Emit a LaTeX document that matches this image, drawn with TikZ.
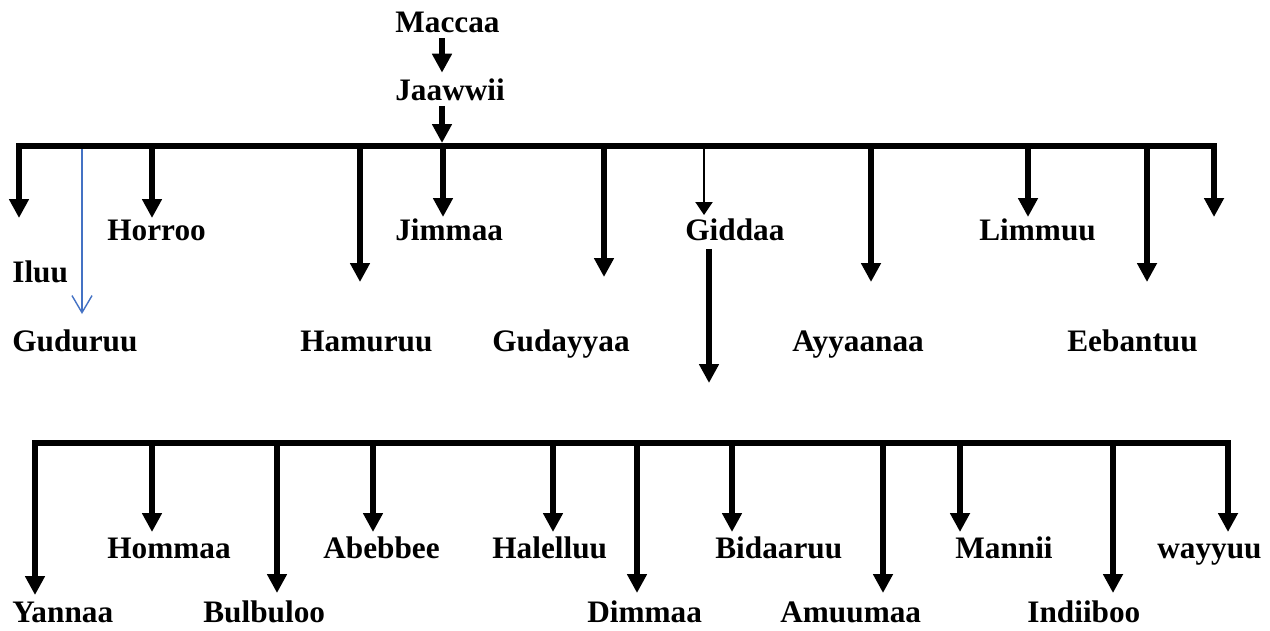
\documentclass[tikz,border=0pt]{standalone}
\usepackage{fontspec}
\setmainfont{Liberation Serif}
\usepackage{tikz}
\usetikzlibrary{arrows.meta}
\definecolor{linkblue}{RGB}{68,114,196}
\tikzset{word/.style = {anchor=base west, inner xsep=0pt, inner ysep=3pt,
                        font=\bfseries\fontsize{17.8}{20}\selectfont}}
\tikzset{lowword/.style = {word, inner ysep=0.5pt}}
\tikzset{bar/.style = {line width=3.4pt, line cap=rect}}
\tikzset{drop/.style = {line width=3.4pt, -{Triangle[width=10.8pt,length=10.8pt]}}}
\tikzset{thindrop/.style = {line width=1.1pt, -{Triangle[width=9.7pt,length=7.4pt]}}}
\tikzset{bluedrop/.style = {draw=linkblue, line width=0.8pt, -{Straight Barb[width=11.4pt,length=9.7pt]}}}

\begin{document}
\begin{tikzpicture}[x=0.02cm, y=-0.02cm]
            \useasboundingbox (0, 0) rectangle (1270, 630);

            % top of the tree
            \node [word] (maccaa) at (395, 32) {Maccaa};
            \node [word] (jaawwii) at (395, 100) {Jaawwii};
            \coordinate (trunk) at (442, 143);
            \draw [drop] (maccaa.south -| trunk) -- (jaawwii.north -| trunk);
            \draw [drop] (jaawwii.south -| trunk) -- (trunk);

            % first row
            \coordinate (barL) at (19, 146);
            \coordinate (barR) at (1214, 146);
            \draw [bar] (barL) -- (barR);

            \node [word] (horroo) at (107, 240) {Horroo};
            \node [word] (jimmaa) at (395, 240) {Jimmaa};
            \node [word] (giddaa) at (685, 240) {Giddaa};
            \node [word] (limmuu) at (979, 240) {Limmuu};
            \node [word] (iluu) at (12, 282) {Iluu};
            \node [word] (guduruu) at (12, 351) {Guduruu};
            \node [word] (hamuruu) at (300, 351) {Hamuruu};
            \node [word] (gudayyaa) at (492, 351) {Gudayyaa};
            \node [word] (ayyaanaa) at (792, 351) {Ayyaanaa};
            \node [word] (eebantuu) at (1067, 351) {Eebantuu};

            \coordinate (a1) at (19, 218);
            \coordinate (a2) at (82, 314);
            \coordinate (a3) at (152, 218);
            \coordinate (a4) at (360, 282);
            \coordinate (a5) at (443, 217);
            \coordinate (a6) at (604, 277);
            \coordinate (a7) at (704, 215);
            \coordinate (a8) at (871, 282);
            \coordinate (a9) at (1028, 217);
            \coordinate (a10) at (1147, 282);
            \coordinate (a11) at (1214, 217);

            \draw [drop] (barL) -- (a1);
            \draw [bluedrop] (a2 |- barL) ++(0, 3) -- (a2);
            \draw [drop] (a3 |- barL) -- (a3);
            \draw [drop] (a4 |- barL) -- (a4);
            \draw [drop] (a5 |- barL) -- (a5);
            \draw [drop] (a6 |- barL) -- (a6);
            \draw [thindrop] (a7 |- barL) -- (a7);
            \draw [drop] (a8 |- barL) -- (a8);
            \draw [drop] (a9 |- barL) -- (a9);
            \draw [drop] (a10 |- barL) -- (a10);
            \draw [drop] (barR) -- (a11);

            % from Giddaa down
            \coordinate (gdown) at (709, 383);
            \draw [drop] (giddaa.south -| gdown) ++(0, 3) -- (gdown);

            % second row
            \coordinate (lowL) at (35, 443);
            \coordinate (lowR) at (1228, 443);
            \draw [bar] (lowL) -- (lowR);

            \node [word] (hommaa) at (107, 558) {Hommaa};
            \node [word] (abebbee) at (323, 558) {Abebbee};
            \node [word] (halelluu) at (492, 558) {Halelluu};
            \node [word] (bidaaruu) at (715, 558) {Bidaaruu};
            \node [word] (mannii) at (955, 558) {Mannii};
            \node [word] (wayyuu) at (1157, 558) {wayyuu};
            \node [lowword] (yannaa) at (12, 622) {Yannaa};
            \node [lowword] (bulbuloo) at (203, 622) {Bulbuloo};
            \node [lowword] (dimmaa) at (587, 622) {Dimmaa};
            \node [lowword] (amuumaa) at (780, 622) {Amuumaa};
            \node [lowword] (indiiboo) at (1027, 622) {Indiiboo};

            \coordinate (b1) at (35, 595);
            \coordinate (b2) at (152, 532);
            \coordinate (b3) at (277, 593);
            \coordinate (b4) at (373, 532);
            \coordinate (b5) at (553, 532);
            \coordinate (b6) at (637, 593);
            \coordinate (b7) at (732, 532);
            \coordinate (b8) at (883, 593);
            \coordinate (b9) at (960, 532);
            \coordinate (b10) at (1113, 593);
            \coordinate (b11) at (1228, 532);

            \draw [drop] (lowL) -- (b1);
            \draw [drop] (b2 |- lowL) -- (b2);
            \draw [drop] (b3 |- lowL) -- (b3);
            \draw [drop] (b4 |- lowL) -- (b4);
            \draw [drop] (b5 |- lowL) -- (b5);
            \draw [drop] (b6 |- lowL) -- (b6);
            \draw [drop] (b7 |- lowL) -- (b7);
            \draw [drop] (b8 |- lowL) -- (b8);
            \draw [drop] (b9 |- lowL) -- (b9);
            \draw [drop] (b10 |- lowL) -- (b10);
            \draw [drop] (lowR) -- (b11);
        \end{tikzpicture}
\end{document}
